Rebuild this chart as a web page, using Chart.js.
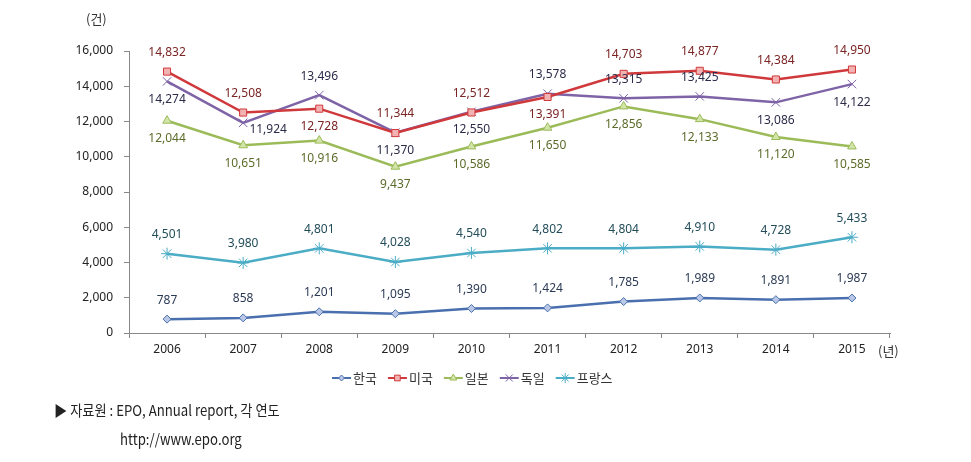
<!DOCTYPE html>
<html>
<head>
<meta charset="utf-8">
<script src="https://cdn.jsdelivr.net/npm/chart.js@4"></script>
<style>
  body { margin: 0; background: #fff; }
  #wrap { position: relative; width: 971px; height: 462px; }
  .note { position: absolute; font-family: "Noto Sans CJK KR", "Liberation Sans", sans-serif; font-size: 15px; color: #222; transform: scaleX(0.88); transform-origin: left top; white-space: nowrap; }
</style>
</head>
<body>
<div id="wrap">
  <canvas id="chart" width="971" height="462"></canvas>
  <div class="note" style="left:54px; top:399px;">▶ 자료원 : EPO, Annual report, 각 연도</div>
  <div class="note" style="left:120px; top:428px;">http://www.epo.org</div>
</div>
<script>
// years on the x axis
const years = ['2006', '2007', '2008', '2009', '2010', '2011', '2012', '2013', '2014', '2015']

// applications per country (건)
const korea   = [787, 858, 1201, 1095, 1390, 1424, 1785, 1989, 1891, 1987]
const usa     = [14832, 12508, 12728, 11344, 12512, 13391, 14703, 14877, 14384, 14950]
const japan   = [12044, 10651, 10916, 9437, 10586, 11650, 12856, 12133, 11120, 10585]
const germany = [14274, 11924, 13496, 11370, 12550, 13578, 13315, 13425, 13086, 14122]
const france  = [4501, 3980, 4801, 4028, 4540, 4802, 4804, 4910, 4728, 5433]

const yTicks = [0, 2000, 4000, 6000, 8000, 10000, 12000, 14000, 16000]

// where each value label sits: a = above, b = below, r = right
const labelPos = {
  korea:   'aaaaaaaaaa'.split(''),
  usa:     ['a', 'a', 'b', 'a', 'a', 'b', 'a', 'a', 'a', 'a'],
  japan:   'bbbbbbbbbb'.split(''),
  germany: ['b', 'r', 'a', 'b', 'b', 'a', 'a', 'a', 'b', 'b'],
  france:  'aaaaaaaaaa'.split('')
}

const series = [
  { key: 'korea', label: '한국', data: korea, line: '#4a6fae', fill: '#b8c8e6', style: 'rectRot', radius: 4, text: '#2b3a55' },
  { key: 'usa', label: '미국', data: usa, line: '#d0393b', fill: '#f3b2b2', style: 'rect', radius: 5, text: '#7a2424' },
  { key: 'japan', label: '일본', data: japan, line: '#9bbb59', fill: '#d3e4a8', style: 'triangle', radius: 5, text: '#5b6b2a' },
  { key: 'germany', label: '독일', data: germany, line: '#7e63a7', fill: '#7e63a7', style: 'crossRot', radius: 6, text: '#2c2c4a' },
  { key: 'france', label: '프랑스', data: france, line: '#4bacc6', fill: '#4bacc6', style: 'star', radius: 6, text: '#234d5a' }
]

const fmt = v => v.toLocaleString('en-US')

const valueLabels = {
  id: 'valueLabels',
  afterDatasetsDraw(chart) {
    const ctx = chart.ctx
    ctx.save()
    ctx.font = '12px "Noto Sans", sans-serif'
    ctx.textAlign = 'center'
    ctx.textBaseline = 'middle'
    chart.data.datasets.forEach((ds, i) => {
      const meta = chart.getDatasetMeta(i)
      const pos = labelPos[series[i].key]
      meta.data.forEach((pt, j) => {
        let x = pt.x, y = pt.y
        if (pos[j] === 'a') y -= 19
        else if (pos[j] === 'b') y += 18
        else { x += 25; y += 7 }
        ctx.fillStyle = series[i].text
        ctx.fillText(fmt(ds.data[j]), x, y)
      })
    })
    ctx.restore()
  }
}

const extras = {
  id: 'extras',
  afterDraw(chart) {
    const ctx = chart.ctx
    const area = chart.chartArea
    ctx.save()
    ctx.font = '13px "Noto Sans CJK KR", sans-serif'
    ctx.fillStyle = '#333'
    ctx.textBaseline = 'middle'
    ctx.textAlign = 'left'
    ctx.fillText('(건)', 86, 19)
    ctx.fillText('(년)', area.right - 12, 351)

    // legend: short line with marker, then name
    let x = 332
    const y = 378
    series.forEach(s => {
      ctx.strokeStyle = s.line
      ctx.lineWidth = 2
      ctx.beginPath()
      ctx.moveTo(x, y)
      ctx.lineTo(x + 19, y)
      ctx.stroke()
      ctx.fillStyle = s.fill
      ctx.strokeStyle = s.line
      ctx.lineWidth = 1
      Chart.helpers.drawPoint(ctx, { pointStyle: s.style, radius: s.radius - 1, borderWidth: 1 }, x + 9.5, y)
      ctx.fillStyle = '#333'
      ctx.fillText(s.label, x + 21, y)
      x += 21 + ctx.measureText(s.label).width + 11
    })
    ctx.restore()
  }
}

new Chart(document.getElementById('chart'), {
  type: 'line',
  data: {
    labels: years,
    datasets: series.map(s => ({
      label: s.label,
      data: s.data,
      borderColor: s.line,
      backgroundColor: s.fill,
      pointBorderColor: s.line,
      pointBackgroundColor: s.fill,
      pointStyle: s.style,
      pointRadius: s.radius,
      pointBorderWidth: 1,
      borderWidth: 2.5,
      tension: 0
    }))
  },
  options: {
    responsive: false,
    animation: false,
    layout: { padding: { top: 51, right: 81, left: 0, bottom: 0 } },
    plugins: { legend: { display: false }, tooltip: { enabled: false } },
    scales: {
      x: {
        offset: true,
        grid: { offset: true, drawOnChartArea: false, drawTicks: true, tickLength: 5, color: '#888' },
        border: { color: '#888' },
        ticks: { color: '#222', font: { family: '"Noto Sans", sans-serif', size: 12 }, padding: 4 },
        afterFit(scale) { scale.height = 129 }
      },
      y: {
        min: 0,
        max: 16000,
        afterBuildTicks(scale) { scale.ticks = yTicks.map(v => ({ value: v })) },
        grid: { drawOnChartArea: false, drawTicks: true, tickLength: 5, color: '#888' },
        border: { color: '#888' },
        ticks: {
          color: '#222',
          font: { family: '"Noto Sans", sans-serif', size: 12 },
          padding: 11,
          callback: v => fmt(v)
        },
        afterFit(scale) { scale.width = 129 }
      }
    }
  },
  plugins: [valueLabels, extras]
})
</script>
</body>
</html>
